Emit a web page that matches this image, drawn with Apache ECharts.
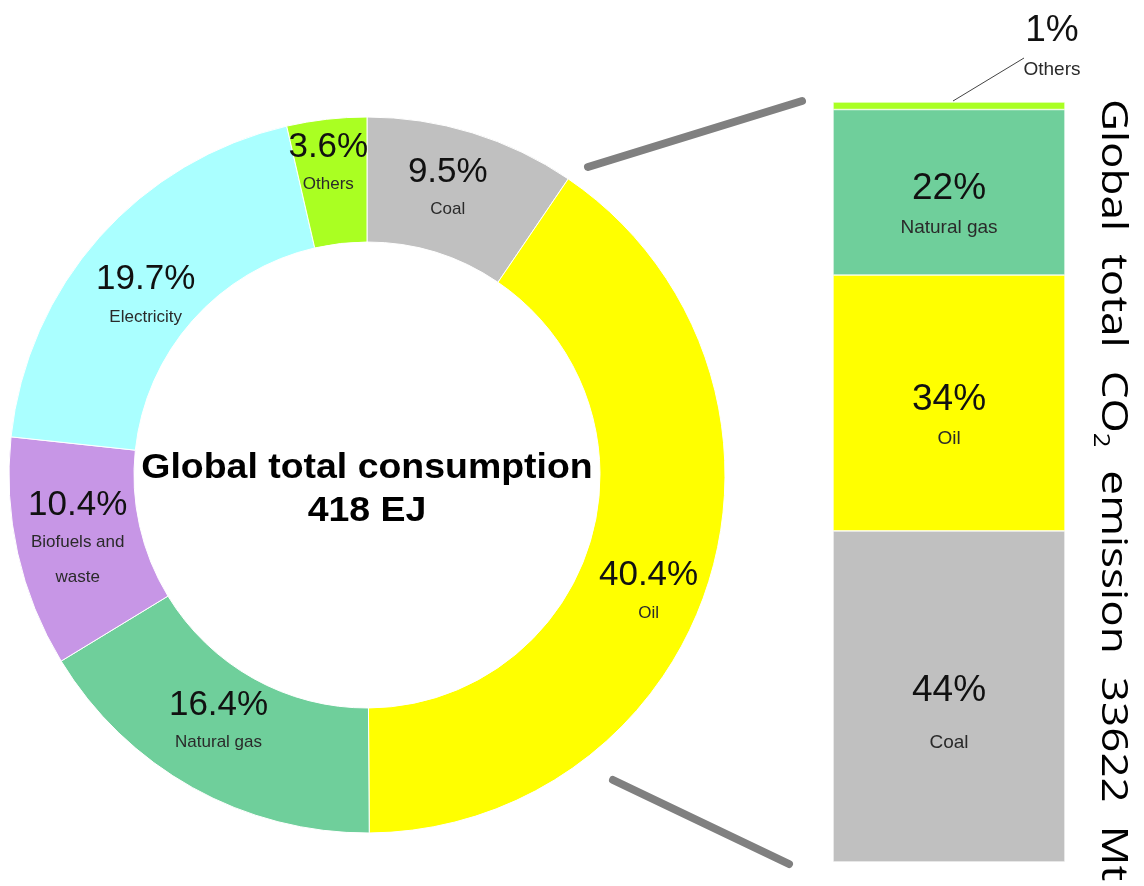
<!DOCTYPE html>
<html>
<head>
<meta charset="utf-8">
<title>Global energy consumption and CO2 emission</title>
<script src="https://cdn.jsdelivr.net/npm/echarts@6/dist/echarts.min.js"></script>
<style>
  html, body { margin: 0; padding: 0; background: #ffffff; }
  #chart { width: 1144px; height: 886px; }
</style>
</head>
<body>
<div id="chart"></div>
<script>
// Final energy consumption by source (share of 418 EJ), clockwise from 12 o'clock
const pieCategories = ['Coal', 'Oil', 'Natural gas', 'Biofuels and\nwaste', 'Electricity', 'Others'];
const pieShares = [9.5, 40.4, 16.4, 10.4, 19.7, 3.6];
const pieColors = ['#c0c0c0', '#ffff00', '#6fcf9b', '#c796e6', '#aaffff', '#aaff22'];

// CO2 emission by fuel (share of 33622 Mt), bottom to top
const barCategories = ['Coal', 'Oil', 'Natural gas', 'Others'];
const barShares = [44, 34, 22, 1];
const barColors = ['#c0c0c0', '#ffff00', '#6fcf9b', '#aaff22'];

const centerTitle = ['Global total consumption', '418 EJ'];
const sideTitle = { pre: 'Global  total  CO', sub: '2', post: '  emission  33622  Mt' };

const FONT = '"Liberation Sans", Arial, sans-serif';

// nudges for the donut labels, in pixels (same order as the slices)
const pieLabelNudge = [[-7, 0], [-4, 31], [-3, -13], [2, 0], [2, 20], [-5, -14]];

// two-tone label: big percentage, small category name underneath
function richLabel(value, name) {
  const nameLines = name.split('\n').map(s => '{n|' + s + '}');
  return ['{p|' + value + '%}'].concat(nameLines).join('\n');
}
const pieRich = {
  p: { fontSize: 35, fontFamily: FONT, color: '#111111', lineHeight: 40 },
  n: { fontSize: 17, fontFamily: FONT, color: '#2a2a2a', lineHeight: 35 }
};
const barRich = {
  p: { fontSize: 37, fontFamily: FONT, color: '#111111', lineHeight: 44 },
  n: { fontSize: 19, fontFamily: FONT, color: '#2a2a2a', lineHeight: 34 }
};

// layout
const pieCenter = [367, 475];
const pieRadius = [233, 358];
const barGrid = { left: 833, top: 102, width: 232, height: 760 };

const barTotal = barShares.reduce((a, b) => a + b, 0);
const barTopY = barGrid.top;
const barBottomY = barGrid.top + barGrid.height;
const barMidX = barGrid.left + barGrid.width / 2;

const barSeries = barCategories.map((cat, i) => {
  const s = {
    type: 'bar',
    name: cat,
    stack: 'co2',
    barWidth: '100%',
    data: [barShares[i]],
    itemStyle: { color: barColors[i], borderColor: '#ffffff', borderWidth: 0.6 },
    label: {
      show: true,
      position: 'inside',
      offset: [0, 14],
      formatter: () => richLabel(barShares[i], cat),
      rich: barRich
    },
    emphasis: { disabled: true },
    silent: true
  };
  if (cat === 'Coal') {
    s.label.rich = { p: barRich.p, n: Object.assign({}, barRich.n, { lineHeight: 60 }) };
    s.label.offset = [0, 24];
  } else if (cat === 'Natural gas') {
    s.label.offset = [0, 13];
  } else if (cat === 'Others') {
    // thin top slice: label sits above the bar, tied to it by a leader line
    s.label.position = 'top';
    s.label.offset = [0, 0];
    s.labelLayout = { x: 1052, y: 48, align: 'center', verticalAlign: 'middle' };
  }
  return s;
});

const option = {
  backgroundColor: '#ffffff',
  animation: false,
  grid: barGrid,
  xAxis: { type: 'category', data: ['CO2'], show: false },
  yAxis: { type: 'value', min: 0, max: barTotal, show: false },
  graphic: [
    // connector strokes between the donut and the emission bar
    {
      type: 'line',
      shape: { x1: 588, y1: 167, x2: barGrid.left - 31, y2: barTopY - 1 },
      style: { stroke: '#808080', lineWidth: 8, lineCap: 'round' },
      silent: true
    },
    {
      type: 'line',
      shape: { x1: 613, y1: 780, x2: barGrid.left - 44, y2: barBottomY + 2 },
      style: { stroke: '#808080', lineWidth: 8, lineCap: 'round' },
      silent: true
    },
    // leader line for the "Others" emission share
    {
      type: 'line',
      shape: { x1: barMidX + 4, y1: barTopY - 1, x2: 1024, y2: 58 },
      style: { stroke: '#444444', lineWidth: 1 },
      silent: true
    },
    // centre caption of the donut
    {
      type: 'text',
      x: pieCenter[0],
      y: 490,
      scaleX: 1.07,
      silent: true,
      style: {
        text: centerTitle.join('\n'),
        font: 'bold 35px ' + FONT,
        fill: '#000000',
        align: 'center',
        verticalAlign: 'middle',
        lineHeight: 43
      }
    },
    // vertical caption beside the bar
    {
      type: 'text',
      x: 1112,
      y: 490,
      rotation: -Math.PI / 2,
      scaleX: 1.225,
      silent: true,
      style: {
        text: '{m|' + sideTitle.pre + '}{s|' + sideTitle.sub + '}{m|' + sideTitle.post + '}',
        align: 'center',
        verticalAlign: 'middle',
        rich: {
          m: { fontSize: 36, fontFamily: '"Open Sans", sans-serif', color: '#000000', lineHeight: 46 },
          s: { fontSize: 21, fontFamily: '"Open Sans", sans-serif', color: '#000000', verticalAlign: 'bottom', lineHeight: 46, padding: [17, 0, 0, 0] }
        }
      }
    }
  ],
  series: [
    {
      type: 'pie',
      center: pieCenter,
      radius: pieRadius,
      startAngle: 90,
      clockwise: true,
      silent: true,
      data: pieCategories.map((name, i) => ({
        name: name,
        value: pieShares[i],
        itemStyle: { color: pieColors[i] }
      })),
      itemStyle: { borderColor: '#ffffff', borderWidth: 1 },
      label: {
        show: true,
        position: 'inside',
        formatter: p => richLabel(pieShares[p.dataIndex], p.name),
        rich: pieRich
      },
      labelLayout: p => ({ dx: pieLabelNudge[p.dataIndex][0], dy: pieLabelNudge[p.dataIndex][1] }),
      labelLine: { show: false },
      emphasis: { disabled: true }
    }
  ].concat(barSeries)
};

const chart = echarts.init(document.getElementById('chart'), null, { renderer: 'canvas' });
chart.setOption(option);
</script>
</body>
</html>
